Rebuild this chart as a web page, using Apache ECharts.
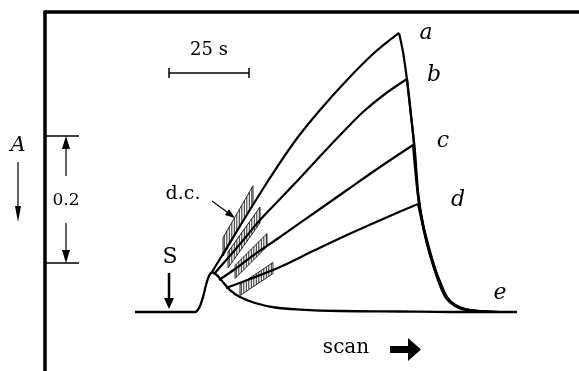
<!DOCTYPE html>
<html><head><meta charset="utf-8">
<script src="https://cdn.jsdelivr.net/npm/echarts@6/dist/echarts.min.js"></script>
<style>html,body{margin:0;padding:0;background:#fff}#c{width:579px;height:371px}</style>
</head><body><div id="c"></div>
<script>
// time in seconds (0 = S, light on), absorbance change A
const eCurve = [[-10.63,0],[8.13,0],[9.38,0.0063],[10.63,0.0236],[11.56,0.0425],[12.5,0.0567],[13.44,0.0622],[14.69,0.0591],[16.56,0.0488],[19.06,0.0346],[22.19,0.0236],[26.88,0.0142],[33.13,0.0071],[40.94,0.0039],[53.44,0.0016],[72.19,0.0008],[87.81,0],[108.75,0]];
const aRise = [[13.44,0.0630],[22.19,0.1354],[30.94,0.2063],[39.38,0.2693],[47.19,0.3181],[55.63,0.3654],[63.75,0.4063],[71.88,0.4394]];
const aFall = [[71.88,0.4394],[73.13,0.4094],[74.38,0.3654],[75.63,0.3102],[76.56,0.2630],[77.81,0.1843],[79.38,0.1370],[80.94,0.1039],[82.5,0.0772],[84.69,0.0457],[86.88,0.0220],[89.38,0.0110],[92.5,0.0047],[97.19,0.0016],[103.44,0]];
const bRise = [[14.06,0.0598],[22.19,0.1071],[28.44,0.1449],[34.69,0.1780],[40.94,0.2110],[48.75,0.2535],[55.0,0.2866],[60.63,0.3150],[67.5,0.3433],[74.38,0.3669]];
const bFall = [[74.38,0.3669],[75.63,0.3087],[76.72,0.2614],[77.97,0.1827],[79.53,0.1354],[82.81,0.0740],[85.0,0.0441],[87.19,0.0213],[89.69,0.0102],[93.13,0.0039],[98.75,0.0008],[105.0,0]];
const cRise = [[15.63,0.0504],[20.63,0.0677],[26.88,0.0913],[34.69,0.1181],[40.94,0.1402],[55.63,0.1921],[65.94,0.2283],[76.25,0.2630]];
const cFall = [[76.25,0.2630],[77.81,0.1827],[79.38,0.1354],[80.94,0.1024],[82.5,0.0756],[84.69,0.0441],[87.19,0.0205],[89.69,0.0094],[93.13,0.0031],[98.75,0.0008],[105.0,0]];
const dRise = [[17.81,0.0378],[25.31,0.0520],[34.69,0.0709],[45.63,0.0976],[55.63,0.1213],[66.88,0.1465],[77.81,0.1701]];
const dFall = [[77.81,0.1701],[79.06,0.1417],[80.63,0.1071],[82.19,0.0787],[84.38,0.0457],[86.56,0.0220],[89.38,0.0094],[92.81,0.0031],[98.75,0.0008],[105.0,0]];
// d.c. hatched segments: [t0, A0, t1, A1]
const hatchBoxes = [[16.88,0.1024,26.25,0.1843],[18.44,0.0819,28.44,0.1528],[20.63,0.0630,30.63,0.1134],[22.19,0.0346,32.5,0.0693]];
const curveLabels = ['a','b','c','d','e'];
const scaleBarSeconds = 25;
const scaleBarLabel = '25 s';
const bracketA = [0.0772, 0.2772];
const bracketLabel = '0.2';

const ink = '#000';
const serif = '"DejaVu Serif", "Liberation Serif", serif';
const chart = echarts.init(document.getElementById('c'), null, {renderer:'canvas'});

function lineSeries(data, w) {
  return {type:'line', data, smooth:0.35, symbol:'none', showSymbol:false, silent:true,
    lineStyle:{color:ink, width:w||2.2}, z:3, animation:false};
}

chart.setOption({
  animation:false,
  backgroundColor:'#fff',
  grid:{left:45, right:0, top:12, bottom:0, containLabel:false},
  xAxis:{type:'value', min:-38.75, max:128.125, position:'top',
    axisLine:{show:true, onZero:false, lineStyle:{color:ink, width:3.5}},
    axisTick:{show:false}, axisLabel:{show:false}, splitLine:{show:false}},
  yAxis:{type:'value', min:-0.09291, max:0.47244,
    axisLine:{show:true, onZero:false, lineStyle:{color:ink, width:3.5}},
    axisTick:{show:false}, axisLabel:{show:false}, splitLine:{show:false}},
  series:[
    {type:'custom', data:hatchBoxes, z:2, silent:true, animation:false,
      renderItem:function(params, api){
        const p0 = api.coord([api.value(0), api.value(1)]);
        const p1 = api.coord([api.value(2), api.value(3)]);
        const dx = p1[0]-p0[0], dy = p1[1]-p0[1];
        const len = Math.sqrt(dx*dx+dy*dy);
        const h = 4.6*len/dx;
        const children = [{type:'polygon', shape:{points:[[p0[0],p0[1]-h],[p1[0],p1[1]-h],[p1[0],p1[1]+h],[p0[0],p0[1]+h]]},
          style:{fill:'#fff', stroke:'#111', lineWidth:0.9}}];
        for (let x = p0[0]+1.3; x < p1[0]; x += 2.5) {
          const yc = p0[1] + (x-p0[0])*dy/dx;
          children.push({type:'line', shape:{x1:x, y1:yc-h, x2:x, y2:yc+h}, style:{stroke:'#111', lineWidth:0.9}});
        }
        return {type:'group', children};
      }},
    lineSeries(eCurve, 2.3),
    lineSeries(aRise), lineSeries(aFall),
    lineSeries(bRise), lineSeries(bFall),
    lineSeries(cRise), lineSeries(cFall),
    lineSeries(dRise), lineSeries(dFall)
  ]
});

const toPx = (t, A) => chart.convertToPixel({gridIndex:0}, [t, A]);
const L = (x1,y1,x2,y2,w) => ({type:'line', silent:true, shape:{x1,y1,x2,y2}, style:{stroke:ink, lineWidth:w}});
const P = (points) => ({type:'polygon', silent:true, shape:{points}, style:{fill:ink}});
const T = (x,y,text,font,align) => ({type:'text', silent:true, x, y, style:{text, font, fill:ink, align:align||'center', verticalAlign:'middle'}});

const g = [];
// scale bar
const b0 = toPx(0, 0.3764), b1 = toPx(scaleBarSeconds, 0.3764);
g.push(L(b0[0], b0[1], b1[0], b1[1], 1.5), L(b0[0], b0[1]-5, b0[0], b0[1]+5, 1.5), L(b1[0], b1[1]-5, b1[0], b1[1]+5, 1.5));
g.push(T((b0[0]+b1[0])/2, b0[1]-23, scaleBarLabel, '18px '+serif));
// S arrow
const s0 = toPx(0, 0);
g.push(L(s0[0], s0[1]-39, s0[0], s0[1]-13, 2.5), P([[s0[0]-5, s0[1]-14],[s0[0], s0[1]-3],[s0[0]+5, s0[1]-14]]));
g.push(T(s0[0]+1, s0[1]-55, 'S', '22px '+serif));
// 0.2 bracket
const bt = toPx(-38.75, bracketA[1]), bb = toPx(-38.75, bracketA[0]);
const bx = bt[0]+21;
g.push(L(bt[0], bt[1], bt[0]+34, bt[1], 1.3), L(bb[0], bb[1], bb[0]+34, bb[1], 1.3));
g.push(P([[bx-4, bt[1]+13],[bx, bt[1]],[bx+4, bt[1]+13]]), L(bx, bt[1]+12, bx, bt[1]+40, 1.2));
g.push(P([[bx-4, bb[1]-13],[bx, bb[1]],[bx+4, bb[1]-13]]), L(bx, bb[1]-12, bx, bb[1]-40, 1.2));
g.push(T(bx, (bt[1]+bb[1])/2+1, bracketLabel, '17px '+serif));
// A label with down arrow
g.push(T(18, bt[1]+10, 'A', 'italic 21px '+serif));
g.push(L(18, bt[1]+26, 18, bt[1]+74, 1.2), P([[15, bt[1]+70],[18, bt[1]+86],[21, bt[1]+70]]));
// d.c. pointer
const an = toPx(20.63, 0.148);
const ux = 0.804, uy = 0.594;
g.push(L(an[0]-23, an[1]-17, an[0]-6, an[1]-4.5, 1.2));
g.push(P([[an[0], an[1]], [an[0]-10*ux-3.5*uy, an[1]-10*uy+3.5*ux], [an[0]-10*ux+3.5*uy, an[1]-10*uy-3.5*ux]]));
g.push(T(an[0]-52, an[1]-24, 'd.c.', '19px '+serif));
// curve labels
const ends = [aRise[aRise.length-1], bRise[bRise.length-1], cRise[cRise.length-1], dRise[dRise.length-1], eCurve[eCurve.length-1]];
const offs = [[27,0],[27,-4],[30,-4],[40,-4],[-17,-19]];
ends.forEach((e,i) => { const p = toPx(e[0], e[1]); g.push(T(p[0]+offs[i][0], p[1]+offs[i][1], curveLabels[i], 'italic 22px '+serif)); });
// scan arrow
g.push(T(346, 348, 'scan', '20px '+serif));
g.push(P([[390,346],[408,346],[408,338],[421,349.5],[408,361],[408,353],[390,353]]));

chart.setOption({graphic:g});
</script></body></html>
